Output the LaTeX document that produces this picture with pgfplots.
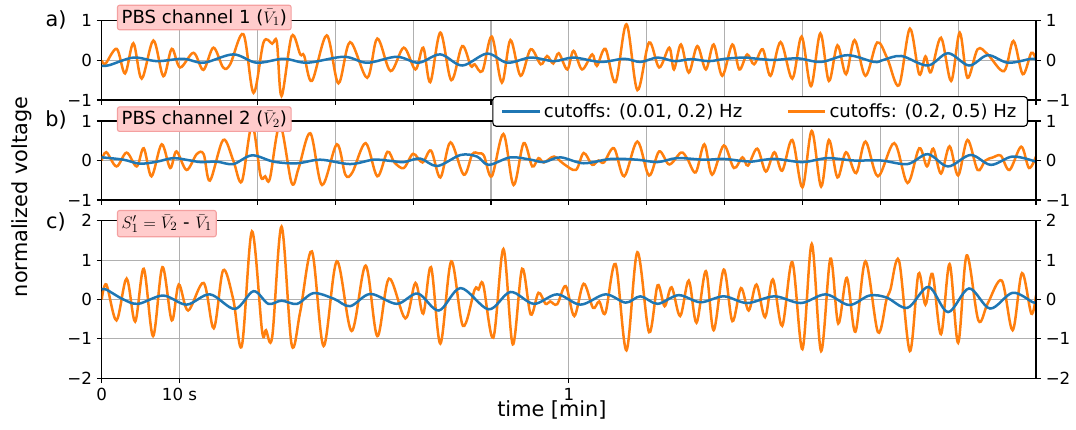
\documentclass[border=0pt]{standalone}
\usepackage{fontspec}
\setmainfont{DejaVu Sans}
\usepackage{pgfplots}
\pgfplotsset{compat=1.18}

\definecolor{tabblue}{HTML}{1F77B4}
\definecolor{taborange}{HTML}{FF7F0E}
\definecolor{boxfill}{HTML}{FFCCCC}
\definecolor{boxedge}{HTML}{F4A0A0}
\definecolor{gridgray}{HTML}{B0B0B0}

% 1 px of the reference = 0.72pt
\pgfplotsset{
  panel/.style={
    scale only axis, width=672.7pt,
    xmin=0, xmax=120,
    tick align=outside, tick pos=left,
    major tick length=3.5pt,
    every tick/.style={black, line width=0.8pt},
    axis line style={line width=0.8pt},
    grid=major, grid style={gridgray, line width=0.8pt},
    tick label style={font=\fontsize{12}{14}\selectfont},
    clip=true,
  },
  rpanel/.style={
    scale only axis, width=672.7pt,
    xmin=0, xmax=120,
    axis x line=none, axis y line*=right,
    tick align=outside,
    major tick length=3.5pt,
    every tick/.style={black, line width=0.8pt},
    axis line style={line width=0.8pt},
    tick label style={font=\fontsize{12}{14}\selectfont},
  },
  hp/.style={taborange, line width=1.8pt, smooth, tension=0.55},
  lp/.style={tabblue, line width=1.8pt, smooth, tension=0.55},
}

\begin{document}
\begin{tikzpicture}
\path[use as bounding box] (0,0) rectangle (774.72pt,-309.6pt);

% ---------------- a) channel 1
\begin{axis}[panel, at={(73.22pt,-14.9pt)}, anchor=north west, height=57.1pt,
  ymin=-1, ymax=1, ytick={-1,0,1}, yticklabels={−1,0,1},
  xtick={0,10,...,120}, xticklabels={}]
\addplot[hp] coordinates {
(0,0.0)(0.5,-0.08)(1.93,0.29)(3.0,-0.33)(4.07,0.43)(5.14,-0.46)(6.64,0.50)(7.92,-0.40)
(9.0,0.29)(10.07,-0.18)(11.8,0.19)(13.06,-0.24)(14.35,0.32)(15.6,-0.18)(16.5,-0.1)
(18.2,0.66)(19.5,-0.82)(20.8,0.46)(21.9,0.42)(22.5,0.46)(23.1,-0.9)(24.4,0.61)(25.5,0.15)
(26.0,0.12)(27.0,-0.52)(28.9,0.63)(30.4,-0.58)(31.9,0.46)(34.1,-0.44)(35.4,0.55)
(37.1,-0.27)(38.8,0.32)(40.3,-0.23)(41.3,0.32)(42.2,-0.55)(43.5,0.70)(44.9,-0.5)
(46.3,0.36)(47.4,-0.14)(47.9,-0.1)(48.9,-0.27)(50.1,0.6)(51.4,-0.56)(52.5,0.51)
(53.8,-0.39)(55.1,0.28)(56.4,-0.1)(57.2,0.11)(58.0,-0.08)(58.7,0.18)(59.8,-0.23)
(60.6,0.24)(61.7,-0.23)(63.0,0.15)(63.6,-0.14)(64.7,0.29)(66.0,-0.55)(67.4,0.91)
(68.8,-0.75)(70.3,0.45)(71.6,-0.18)(72.9,0.32)(73.5,-0.23)(74.4,0.40)(75.4,-0.31)
(76.5,0.36)(77.6,-0.23)(78.6,0.40)(79.7,-0.39)(81.0,0.40)(81.9,-0.23)(82.9,0.15)
(83.8,-0.1)(84.9,0.28)(85.9,-0.39)(87.2,0.46)(88.7,-0.46)(89.9,0.6)(91.1,-0.65)
(92.3,0.68)(93.4,-0.52)(94.5,0.38)(95.6,-0.35)(96.7,0.51)(98.1,-0.39)(99.6,0.45)
(100.9,0.05)(102.4,-0.63)(103.8,0.8)(105.0,-0.35)(105.8,0.1)(106.5,-0.3)(107.8,0.57)
(109.1,-0.52)(110.2,0.7)(111.2,-0.44)(112.5,0.28)(113.8,0.15)(115.9,-0.27)(117.1,0.49)
(118.3,-0.35)(119.4,0.19)(120,0.02)};
\addplot[lp] coordinates {
(0,-0.14)(1.0,-0.12)(4.1,0.07)(7.1,-0.02)(10.5,0.04)(13.1,-0.06)(16.9,0.15)(19.9,-0.06)
(23.4,0.04)(26.4,-0.06)(31.1,0.09)(34.1,-0.06)(37.9,0.09)(40.7,-0.06)(43.5,0.15)
(46.3,-0.13)(49.5,0.17)(52.1,-0.06)(55.1,0.07)(58.1,-0.02)(60.6,0.07)(64.1,-0.04)
(67.1,0.04)(69.2,-0.04)(71.4,0.07)(73.6,-0.02)(75.7,0.03)(78.0,-0.02)(80.1,0.04)
(82.5,0.07)(84.2,0.04)(86.4,0.01)(89.4,0.05)(92.4,-0.04)(95.8,0.13)(99.2,-0.04)
(100.4,0.01)(102.7,0.11)(106.1,-0.13)(108.7,0.18)(111.4,-0.13)(113.8,0.13)(116.4,-0.06)
(119.4,0.04)(120,0.01)};
\end{axis}
\begin{axis}[rpanel, at={(73.22pt,-14.9pt)}, anchor=north west, height=57.1pt,
  ymin=-1, ymax=1, ytick={-1,0,1}, yticklabels={−1,0,1}]
\end{axis}

% ---------------- b) channel 2
\begin{axis}[panel, at={(73.22pt,-87.12pt)}, anchor=north west, height=56.88pt,
  ymin=-1, ymax=1, ytick={-1,0,1}, yticklabels={−1,0,1},
  xtick={0,10,...,120}, xticklabels={},
  legend columns=2,
  legend style={at={(0.9915,1.316)}, anchor=north east, draw=black, line width=0.8pt,
    rounded corners=2.5pt, fill=white, font=\fontsize{13}{15}\selectfont,
    inner xsep=6pt, inner ysep=3pt,
    /tikz/every even column/.append style={column sep=30pt}},
  legend image code/.code={\draw[#1] (0pt,0pt) -- (27pt,0pt);}]
\addlegendimage{tabblue, line width=1.8pt}
\addlegendentry{cutoffs: (0.01, 0.2) Hz}
\addlegendimage{taborange, line width=1.8pt}
\addlegendentry{cutoffs: (0.2, 0.5) Hz}
\addplot[hp, forget plot] coordinates {
(0,0)(0.6,0.21)(1.9,-0.15)(3.2,0.2)(4.5,-0.15)(5.4,0.31)(6.4,-0.4)(7.7,0.41)(8.8,-0.19)
(9.6,0.23)(10.9,-0.24)(12.2,0.16)(13.1,0.16)(13.9,-0.51)(15.6,0.52)(16.9,0.0)(18.0,-0.53)
(19.3,0.9)(20.4,-0.38)(21.0,-0.4)(21.6,-0.46)(22.9,0.9)(24.4,-0.57)(25.3,-0.19)
(26.8,0.69)(28.3,-0.62)(30.2,0.41)(31.3,-0.36)(32.2,-0.3)(33.9,0.44)(35.4,-0.4)
(36.7,0.22)(37.6,-0.05)(38.8,-0.19)(40.0,0.17)(41.2,-0.05)(42.3,0.25)(43.5,-0.43)
(44.8,0.46)(46.5,-0.36)(47.6,0.16)(48.4,0.18)(49.1,0.12)(50.1,-0.4)(51.6,0.67)
(52.9,-0.62)(54.2,0.44)(55.3,-0.15)(56.1,0.06)(56.8,-0.05)(58.1,0.1)(59.3,-0.08)
(60.9,-0.24)(61.9,0.19)(63.0,-0.11)(63.8,0.0)(64.5,-0.05)(65.8,0.31)(67.1,-0.4)
(68.8,0.48)(70.3,-0.38)(71.6,0.23)(72.9,-0.1)(74.4,0.2)(75.2,0.05)(76.3,-0.3)
(77.4,0.41)(78.4,-0.36)(79.9,0.38)(81.2,-0.19)(82.3,0.08)(83.0,-0.13)(84.2,0.3)
(85.3,-0.28)(86.4,0.21)(87.4,-0.26)(88.7,0.52)(90.0,-0.68)(91.2,0.75)(92.4,-0.66)
(93.4,0.52)(94.5,-0.43)(95.6,0.21)(96.9,-0.32)(98.1,0.48)(99.7,-0.4)(101.8,0.44)
(103.5,-0.57)(105.0,0.31)(106.0,-0.15)(106.8,0.3)(107.8,-0.33)(108.9,0.36)(110.0,-0.38)
(111.2,0.52)(112.5,-0.24)(113.5,0.0)(114.5,0.08)(115.5,0.12)(116.6,-0.24)(118.1,0.35)
(119.1,-0.19)(120,0.1)};
\addplot[lp, forget plot] coordinates {
(0,0.08)(2.8,0.02)(4.9,-0.08)(7.1,-0.03)(9.2,0.06)(11.4,0.0)(12.7,-0.04)(14.8,-0.03)
(16.9,-0.09)(19.3,0.13)(22.1,-0.03)(25.1,-0.07)(28.1,0.02)(31.9,-0.09)(34.9,0.02)
(37.1,-0.01)(38.8,-0.04)(40.9,0.05)(43.1,-0.14)(46.1,0.14)(48.2,0.1)(49.7,-0.11)
(52.5,0.08)(55.1,0.02)(56.8,-0.04)(58.9,0.08)(61.9,-0.07)(65.4,0.04)(68.8,0.02)
(71.4,-0.04)(73.9,0.06)(77.4,0.02)(79.9,0.04)(82.1,-0.01)(83.4,-0.03)(86.4,0.04)
(90.0,-0.04)(93.2,0.06)(96.6,0.0)(100.1,0.0)(103.5,-0.09)(106.1,0.16)(108.7,-0.15)
(111.6,0.14)(114.2,-0.11)(117.0,0.1)(120,-0.03)};
\end{axis}
\begin{axis}[rpanel, at={(73.22pt,-87.12pt)}, anchor=north west, height=56.88pt,
  ymin=-1, ymax=1, ytick={-1,0,1}, yticklabels={−1,0,1}]
\end{axis}

% ---------------- c) difference
\begin{axis}[panel, at={(73.22pt,-158.9pt)}, anchor=north west, height=113.47pt,
  ymin=-2, ymax=2, ytick={-2,-1,0,1,2}, yticklabels={−2,−1,0,1,2},
  xtick={0,10,60}, xticklabels={0,10 s,1}]
\addplot[hp] coordinates {
(0,0)(0.6,0.38)(1.9,-0.53)(3.2,0.53)(4.3,-0.56)(5.4,0.78)(6.6,-0.93)(7.8,0.82)(9.0,-0.53)
(9.9,0.38)(11.1,-0.28)(13.1,0.42)(14.4,-0.73)(15.6,0.74)(16.9,0.0)(18.0,-1.18)(19.3,1.73)
(20.6,-0.8)(21.1,-0.78)(21.9,-0.95)(23.1,1.85)(24.4,-1.15)(25.5,-0.31)(27.0,1.22)
(28.5,-1.18)(30.2,0.97)(32.1,-0.8)(33.9,0.86)(35.4,-0.93)(36.9,0.53)(39.0,-0.48)
(40.3,0.42)(41.3,-0.36)(42.3,0.82)(43.5,-1.12)(44.9,0.97)(46.4,-0.67)(47.9,0.25)
(48.4,0.25)(49.0,0.38)(50.3,-0.97)(51.6,1.28)(52.8,-1.14)(54.0,0.78)(55.1,-0.38)
(56.1,0.17)(57.0,-0.11)(57.6,-0.05)(58.5,-0.12)(59.6,0.34)(60.7,-0.42)(61.9,0.4)
(63.1,-0.21)(63.9,-0.05)(64.7,-0.34)(66.0,0.9)(67.4,-1.29)(68.8,1.2)(70.3,-0.83)
(71.4,0.36)(72.3,-0.17)(73.2,0.31)(74.3,-0.42)(75.4,0.48)(76.4,-0.59)(77.6,0.72)
(78.6,-0.78)(79.9,0.76)(81.0,-0.55)(82.1,0.29)(83.1,-0.28)(84.1,0.38)(85.2,-0.45)
(86.2,0.51)(87.4,-0.67)(88.7,0.95)(90.0,-1.26)(91.2,1.41)(92.4,-1.31)(93.6,1.04)
(94.6,-0.61)(95.7,0.55)(96.8,-0.82)(98.1,0.97)(99.7,-0.83)(100.8,0.0)(101.3,0.25)
(102.4,0.99)(103.8,-1.31)(104.9,0.65)(105.8,-0.13)(106.7,0.65)(107.8,-0.88)(108.9,0.9)
(110.0,-1.1)(111.1,1.12)(112.6,-0.53)(113.8,-0.1)(115.6,0.48)(117.0,-0.78)(118.2,0.67)
(119.4,-0.36)(120,0.1)};
\addplot[lp] coordinates {
(0,0.25)(0.6,0.25)(2.8,0.0)(4.7,-0.11)(7.9,0.1)(10.9,-0.13)(13.9,0.13)(17.1,-0.24)
(19.5,0.21)(21.4,-0.11)(23.1,-0.03)(25.1,-0.11)(27.2,0.16)(29.8,0.02)(31.9,-0.17)
(34.5,0.14)(37.9,-0.11)(40.6,0.15)(43.3,-0.28)(46.1,0.29)(49.7,-0.25)(52.5,0.19)
(55.5,-0.11)(58.5,0.13)(61.5,-0.13)(64.7,0.13)(67.3,-0.08)(69.2,0.08)(71.4,-0.11)
(74.1,0.11)(76.9,-0.07)(79.9,0.08)(82.9,-0.09)(86.4,0.08)(89.8,-0.09)(93.0,0.13)
(96.0,-0.14)(98.6,0.1)(100.8,0.05)(103.5,-0.21)(106.2,0.32)(108.7,-0.32)(111.4,0.28)
(114.1,-0.23)(117.0,0.17)(119.6,-0.07)(120,-0.05)};
\end{axis}
\begin{axis}[rpanel, at={(73.22pt,-158.9pt)}, anchor=north west, height=113.47pt,
  ymin=-2, ymax=2, ytick={-2,-1,0,1,2}, yticklabels={−2,−1,0,1,2}]
\end{axis}

% ---------------- labels
\begin{scope}[every node/.style={inner sep=0pt}]
\node[font=\fontsize{15}{18}\selectfont] at (40.3pt,-14.4pt) {a)};
\node[font=\fontsize{15}{18}\selectfont] at (40.3pt,-86.4pt) {b)};
\node[font=\fontsize{15}{18}\selectfont] at (40.3pt,-159.8pt) {c)};
\node[font=\fontsize{15}{18}\selectfont, rotate=90] at (15.8pt,-141.8pt) {normalized voltage};
\node[font=\fontsize{15}{18}\selectfont] at (397.4pt,-295.2pt) {time [min]};
\end{scope}
\begin{scope}[every node/.style={anchor=west, fill=boxfill, draw=boxedge, line width=0.8pt,
    rounded corners=1.5pt, inner xsep=3pt, inner ysep=3pt, font=\fontsize{13}{15}\selectfont}]
\node at (84.2pt,-12.6pt) {PBS channel 1 ($\bar{V}_1$)};
\node at (84.2pt,-85.8pt) {PBS channel 2 ($\bar{V}_2$)};
\node at (84.2pt,-161.0pt) {$S'_1=\bar{V}_2$ - $\bar{V}_1$};
\end{scope}
\end{tikzpicture}
\end{document}
